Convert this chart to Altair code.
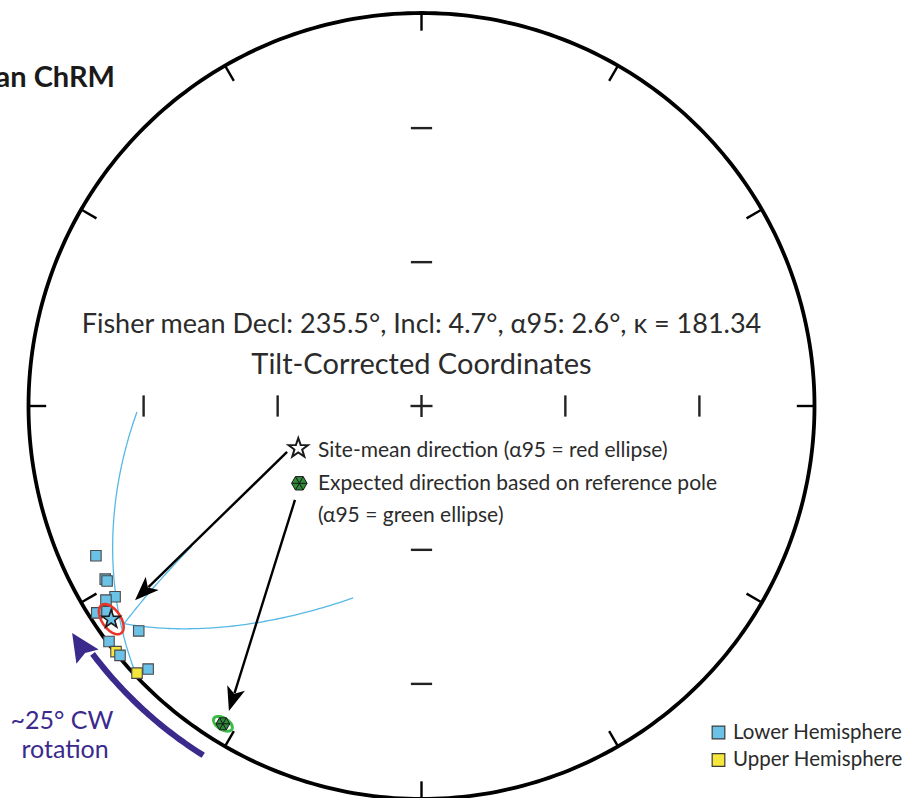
import math
import altair as alt
import numpy as np
import pandas as pd

# ---------------- data ----------------
# specimen ChRM directions (declination, inclination); negative inclination = upper hemisphere
spec_dec = [245.3, 241.3, 240.9, 238.1, 238.4, 237.5, 236.8, 231.5, 233.0, 231.2, 230.4, 226.8, 226.1]
spec_inc = [9.7, 9.1, 9.3, 9.0, 6.4, 2.3, 4.9, 8.9, 0.5, -0.3, 0.5, -0.8, 3.9]

# Fisher site mean and expected direction (dec, inc, alpha95)
mean_dir = (235.5, 4.7, 2.6)
kappa = 181.34
exp_dir = (212.0, 5.2, 1.6)

# great-circle arcs: start (dec, inc) -> end (dec, inc)
gc_start_dec = [268.8, 233.8, 233.8]
gc_start_inc = [28.4, 6.9, 6.9]
gc_end_dec = [227.1, 238.6, 199.6]
gc_end_inc = [0.6, 32.1, 47.0]

# net furniture
perimeter_ticks = list(range(0, 360, 30))
inclination_ticks = [30, 60]
axis_azimuths = [0, 90, 180, 270]

# rotation arrow (radius in net units, azimuths)
rot_radius = 1.048
rot_from, rot_to, rot_tip = 212.0, 233.0, 237.0

# annotation arrows (net units): start -> tip
arrow_x0 = [-0.342, -0.322]
arrow_y0 = [-0.117, -0.239]
arrow_x1 = [-0.729, -0.490]
arrow_y1 = [-0.494, -0.776]

# ---------------- helpers ----------------
SQ2 = math.sqrt(2.0)
XDOM = [-421.5 / 393, (911 - 421.5) / 393]
YDOM = [(406 - 798) / 393, 406 / 393]


def proj(dec, inc):
    d = np.radians(np.asarray(dec, float))
    i = np.abs(np.asarray(inc, float))
    r = SQ2 * np.sin(np.radians((90 - i) / 2))
    return r * np.sin(d), r * np.cos(d)


def to_vec(dec, inc):
    d, i = math.radians(dec), math.radians(inc)
    return np.array([math.cos(i) * math.cos(d), math.cos(i) * math.sin(d), math.sin(i)])


def to_dir(v):
    v = v / np.linalg.norm(v, axis=0)
    dec = np.degrees(np.arctan2(v[1], v[0])) % 360
    inc = np.degrees(np.arcsin(np.clip(v[2], -1, 1)))
    return dec, inc


def small_circle(dec, inc, a95, n=120):
    m = to_vec(dec, inc)
    u = np.cross(m, np.array([0.0, 0.0, 1.0]))
    u /= np.linalg.norm(u)
    w = np.cross(m, u)
    t = np.linspace(0, 2 * np.pi, n + 1)
    a = math.radians(a95)
    pts = math.cos(a) * m[:, None] + math.sin(a) * (np.cos(t)[None, :] * u[:, None] + np.sin(t)[None, :] * w[:, None])
    return to_dir(pts)


def gc_arc(d1, i1, d2, i2, n=80):
    v1, v2 = to_vec(d1, i1), to_vec(d2, i2)
    om = math.acos(max(-1.0, min(1.0, float(v1 @ v2))))
    t = np.linspace(0, 1, n)
    pts = (np.sin((1 - t) * om)[None, :] * v1[:, None] + np.sin(t * om)[None, :] * v2[:, None]) / math.sin(om)
    return to_dir(pts)


X = lambda f="x": alt.X(f"{f}:Q", scale=alt.Scale(domain=XDOM, nice=False, zero=False), axis=None)
Y = lambda f="y": alt.Y(f"{f}:Q", scale=alt.Scale(domain=YDOM, nice=False, zero=False), axis=None)

FONT = "Lato"
TXT = "#2b2b2b"

# ---------------- primitive circle ----------------
az = np.arange(0, 361, 1.0)
prim = pd.DataFrame({"x": np.sin(np.radians(az)), "y": np.cos(np.radians(az)), "o": az})
prim_layer = alt.Chart(prim).mark_line(color="black", strokeWidth=3.8).encode(x=X(), y=Y(), order="o:Q")

# perimeter ticks
pt = np.radians(perimeter_ticks)
ptick = pd.DataFrame({"x": np.sin(pt), "y": np.cos(pt), "x2": 0.955 * np.sin(pt), "y2": 0.955 * np.cos(pt)})
ptick_layer = alt.Chart(ptick).mark_rule(color="black", strokeWidth=2.4).encode(
    x=X(), y=Y(), x2="x2:Q", y2="y2:Q")

# inclination ticks on the axes + centre cross
rows = []
h = 0.027
for inc in inclination_ticks:
    r = SQ2 * math.sin(math.radians((90 - inc) / 2))
    for a in axis_azimuths:
        cx, cy = r * math.sin(math.radians(a)), r * math.cos(math.radians(a))
        if a in (0, 180):
            rows.append({"x": cx - h, "y": cy, "x2": cx + h, "y2": cy})
        else:
            rows.append({"x": cx, "y": cy - h, "x2": cx, "y2": cy + h})
rows.append({"x": -0.028, "y": 0.0, "x2": 0.028, "y2": 0.0})
rows.append({"x": 0.0, "y": -0.028, "x2": 0.0, "y2": 0.028})
itick_layer = alt.Chart(pd.DataFrame(rows)).mark_rule(color="#222222", strokeWidth=2.4).encode(
    x=X(), y=Y(), x2="x2:Q", y2="y2:Q")

# ---------------- great circles ----------------
gc_rows = []
for k in range(len(gc_start_dec)):
    d, i = gc_arc(gc_start_dec[k], gc_start_inc[k], gc_end_dec[k], gc_end_inc[k])
    gx, gy = proj(d, i)
    for j in range(len(gx)):
        gc_rows.append({"x": gx[j], "y": gy[j], "o": j, "g": k})
gc_layer = alt.Chart(pd.DataFrame(gc_rows)).mark_line(color="#55b9e6", strokeWidth=1.3).encode(
    x=X(), y=Y(), order="o:Q", detail="g:N")

# ---------------- confidence ellipses ----------------
def ellipse_df(dirn):
    d, i = small_circle(*dirn)
    ex, ey = proj(d, i)
    return pd.DataFrame({"x": ex, "y": ey, "o": np.arange(len(ex))})

red_layer = alt.Chart(ellipse_df(mean_dir)).mark_line(color="#e8372a", strokeWidth=2.6).encode(
    x=X(), y=Y(), order="o:Q")
green_layer = alt.Chart(ellipse_df(exp_dir)).mark_line(color="#3dbb4a", strokeWidth=3).encode(
    x=X(), y=Y(), order="o:Q")

# ---------------- specimen squares ----------------
sx, sy = proj(spec_dec, spec_inc)
spec = pd.DataFrame({"x": sx, "y": sy, "hem": ["Lower" if v >= 0 else "Upper" for v in spec_inc]})
spec_layer = alt.Chart(spec).mark_point(shape="square", filled=True, size=110, stroke="#4a4a4a",
                                        strokeWidth=1.1, opacity=1).encode(
    x=X(), y=Y(),
    color=alt.Color("hem:N", scale=alt.Scale(domain=["Lower", "Upper"], range=["#6cc1e6", "#f5e63c"]), legend=None))

STAR = ("M0,-1 L0.235,-0.324 L0.951,-0.309 L0.38,0.124 L0.588,0.809 L0,0.4 "
        "L-0.588,0.809 L-0.38,0.124 L-0.951,-0.309 L-0.235,-0.324 Z")
HEX = ("M1,0 L0.5,0.866 L-0.5,0.866 L-1,0 L-0.5,-0.866 L0.5,-0.866 Z "
       "M1,0 L-1,0 M0.5,0.866 L-0.5,-0.866 M-0.5,0.866 L0.5,-0.866")

mx, my = proj([mean_dir[0]], [mean_dir[1]])
star_layer = alt.Chart(pd.DataFrame({"x": mx, "y": my})).mark_point(
    shape=STAR, filled=True, color="#6cc1e6", stroke="#1a1a1a", strokeWidth=1.6, size=360, opacity=1).encode(x=X(), y=Y())

gx_, gy_ = proj([exp_dir[0]], [exp_dir[1]])
hex_layer = alt.Chart(pd.DataFrame({"x": gx_, "y": gy_})).mark_point(
    shape=HEX, filled=True, color="#2f8a3a", stroke="#1a1a1a", strokeWidth=1, size=190, opacity=1).encode(x=X(), y=Y())

# ---------------- black annotation arrows ----------------
HEAD = "M0,0 L0.62,1.6 L0,1.2 L-0.62,1.6 Z"
HEAD_SIZE = 900
head_u = math.sqrt(HEAD_SIZE) / 2 / 393  # one path unit in net units
ar_rows, hd_rows = [], []
for k in range(len(arrow_x0)):
    dx, dy = arrow_x1[k] - arrow_x0[k], arrow_y1[k] - arrow_y0[k]
    L = math.hypot(dx, dy)
    ux, uy = dx / L, dy / L
    ar_rows.append({"x": arrow_x0[k], "y": arrow_y0[k],
                    "x2": arrow_x1[k] - ux * 1.25 * head_u, "y2": arrow_y1[k] - uy * 1.25 * head_u})
    hd_rows.append({"x": arrow_x1[k], "y": arrow_y1[k], "ang": math.degrees(math.atan2(dx, dy)) % 360})
arrow_layer = alt.Chart(pd.DataFrame(ar_rows)).mark_rule(color="black", strokeWidth=2.4).encode(
    x=X(), y=Y(), x2="x2:Q", y2="y2:Q")
head_layer = alt.Chart(pd.DataFrame(hd_rows)).mark_point(
    shape=HEAD, filled=True, color="black", size=HEAD_SIZE, opacity=1).encode(
    x=X(), y=Y(), angle=alt.Angle("ang:Q", scale=None))

# ---------------- purple rotation arrow ----------------
ra = np.arange(rot_from, rot_to + 0.01, 0.5)
rot = pd.DataFrame({"x": rot_radius * np.sin(np.radians(ra)), "y": rot_radius * np.cos(np.radians(ra)),
                    "o": np.arange(len(ra))})
PURPLE = "#3b2a8c"
rot_layer = alt.Chart(rot).mark_line(color=PURPLE, strokeWidth=6).encode(x=X(), y=Y(), order="o:Q")
tip_r = rot_radius + 0.012
tb = math.radians(rot_tip)
rot_head = pd.DataFrame({"x": [tip_r * math.sin(tb)], "y": [tip_r * math.cos(tb)],
                         "ang": [math.degrees(math.atan2(math.cos(tb), -math.sin(tb))) % 360]})
rot_head_layer = alt.Chart(rot_head).mark_point(
    shape="M0,0 L0.75,1.6 L0,1.35 L-0.75,1.6 Z", filled=True, color=PURPLE, size=1250, opacity=1).encode(
    x=X(), y=Y(), angle=alt.Angle("ang:Q", scale=None))

# ---------------- text ----------------
fisher = f"Fisher mean Decl: {mean_dir[0]}°, Incl: {mean_dir[1]}°, α95: {mean_dir[2]}°, κ = {kappa}"
fisher_layer = alt.Chart(pd.DataFrame({"x": [0.0], "y": [0.1858], "t": [fisher]})).mark_text(
    font=FONT, fontSize=27, color=TXT, align="center", baseline="alphabetic").encode(x=X(), y=Y(), text="t:N")
tilt_layer = alt.Chart(pd.DataFrame({"x": [0.0], "y": [0.0814], "t": ["Tilt-Corrected Coordinates"]})).mark_text(
    font=FONT, fontSize=29, color=TXT, align="center", baseline="alphabetic").encode(x=X(), y=Y(), text="t:N")

key_text = pd.DataFrame({"x": [-0.2634, -0.2634, -0.2634], "y": [-0.1285, -0.2137, -0.2952],
                         "t": ["Site-mean direction  (α95 = red ellipse)",
                               "Expected direction based on reference pole",
                               "(α95 = green ellipse)"]})
key_layer = alt.Chart(key_text).mark_text(
    font=FONT, fontSize=21, color=TXT, align="left", baseline="alphabetic").encode(x=X(), y=Y(), text="t:N")

key_star = alt.Chart(pd.DataFrame({"x": [-0.3135], "y": [-0.1076]})).mark_point(
    shape=STAR, filled=True, color="white", stroke="#1a1a1a", strokeWidth=2, size=420, opacity=1).encode(x=X(), y=Y())
key_hex = alt.Chart(pd.DataFrame({"x": [-0.3109], "y": [-0.1967]})).mark_point(
    shape=HEX, filled=True, color="#2f8a3a", stroke="#1a1a1a", strokeWidth=1, size=240, opacity=1).encode(x=X(), y=Y())

rot_text = pd.DataFrame({"x": [-0.9148, -0.907], "y": [-0.8215, -0.8956], "t": ["~25° CW", "rotation"]})
rot_text_layer = alt.Chart(rot_text).mark_text(
    font=FONT, fontSize=25, color=PURPLE, align="center", baseline="alphabetic").encode(x=X(), y=Y(), text="t:N")

title_layer = alt.Chart(pd.DataFrame({"x": [-0.780], "y": [0.8117], "t": ["an ChRM"]})).mark_text(
    font=FONT, fontSize=29, fontWeight="bold", color="#1a1a1a", align="right", baseline="alphabetic").encode(
    x=X(), y=Y(), text="t:N")

# hemisphere legend
leg = pd.DataFrame({"x": [0.7557, 0.7557], "y": [-0.8308, -0.9008], "hem": ["Lower", "Upper"],
                    "tx": [0.7926, 0.7926], "ty": [-0.8473, -0.9160],
                    "t": ["Lower Hemisphere", "Upper Hemisphere"]})
leg_sq = alt.Chart(leg).mark_point(shape="square", filled=True, size=160, stroke="#3a3a3a",
                                   strokeWidth=1.2, opacity=1).encode(
    x=X(), y=Y(),
    color=alt.Color("hem:N", scale=alt.Scale(domain=["Lower", "Upper"], range=["#6cc1e6", "#f5e63c"]), legend=None))
leg_tx = alt.Chart(leg).mark_text(font=FONT, fontSize=20.5, color=TXT, align="left", baseline="alphabetic").encode(
    x=X("tx"), y=Y("ty"), text="t:N")

chart = alt.layer(
    prim_layer, ptick_layer, itick_layer, gc_layer, arrow_layer, head_layer,
    spec_layer, red_layer, star_layer, green_layer, hex_layer,
    rot_layer, rot_head_layer,
    fisher_layer, tilt_layer, key_layer, key_star, key_hex, rot_text_layer, title_layer, leg_sq, leg_tx,
).properties(
    width=911, height=798,
    autosize=alt.AutoSizeParams(type="none"),
    padding=0,
    background="white",
).configure_view(strokeWidth=0)

chart.save("out.html", embed_options={"renderer": "svg", "actions": False})
